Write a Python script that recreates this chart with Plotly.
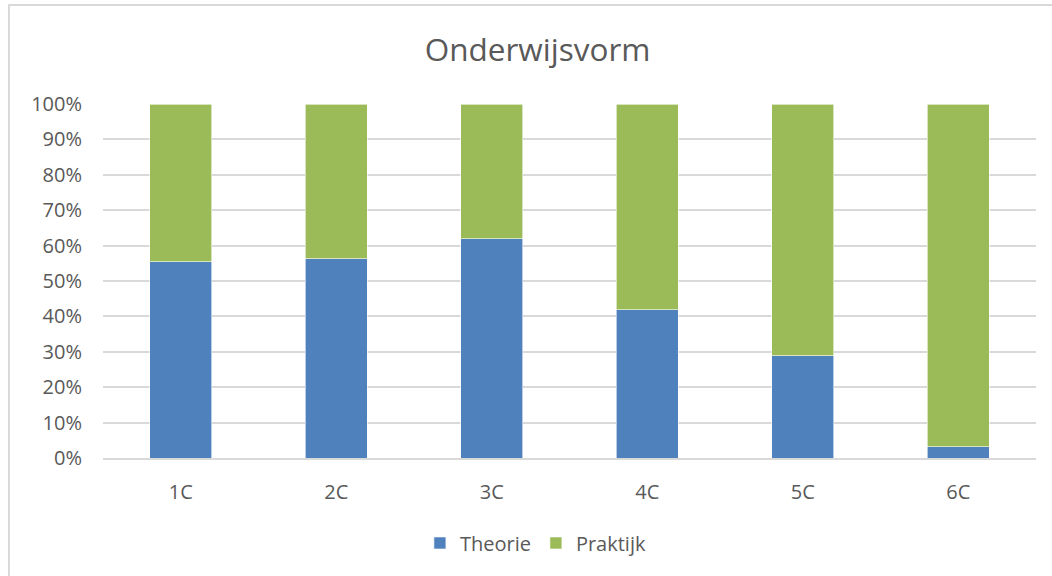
import plotly.graph_objects as go

categories = ["1C", "2C", "3C", "4C", "5C", "6C"]
theorie = [0.555, 0.563, 0.620, 0.419, 0.289, 0.032]
praktijk = [1 - v for v in theorie]

font_family = "Open Sans, Noto Sans, sans-serif"
text_color = "#595959"

fig = go.Figure()
fig.add_trace(go.Bar(x=categories, y=theorie, name="Theorie",
                     marker=dict(color="#4f81bd", line=dict(color="#ffffff", width=0.6))))
fig.add_trace(go.Bar(x=categories, y=praktijk, name="Praktijk",
                     marker=dict(color="#9bbb59", line=dict(color="#ffffff", width=0.6))))

fig.update_layout(
    barmode="stack",
    bargap=0.6,
    width=1052, height=576,
    margin=dict(l=103, r=16, t=104, b=118),
    paper_bgcolor="white", plot_bgcolor="white",
    font=dict(family=font_family, color=text_color),
    title=dict(text="Onderwijsvorm", x=0.511, xanchor="center", y=1 - 50 / 576,
               yanchor="middle", font=dict(size=31.5, color=text_color)),
    legend=dict(orientation="h", x=0.464, xanchor="center", y=-0.24, yanchor="middle",
                font=dict(size=20, color=text_color), traceorder="normal",
                itemwidth=30),
    showlegend=True,
)
fig.update_yaxes(range=[0, 1], dtick=0.1, tickformat=".0%", showgrid=True,
                 gridcolor="#d9d9d9", gridwidth=1.5, zeroline=False,
                 ticks="", ticklabelstandoff=20, tickfont=dict(size=20, color=text_color),
                 fixedrange=True)
fig.update_xaxes(showline=True, linecolor="#d9d9d9", linewidth=1.5, ticks="",
                 ticklabelstandoff=15, tickfont=dict(size=20, color=text_color))

fig.add_shape(type="rect", xref="paper", yref="paper",
              x0=(9 - 103) / 933, x1=(1070 - 103) / 933,
              y0=(458 - 600) / 354, y1=(458 - 5) / 354,
              line=dict(color="#d9d9d9", width=2), fillcolor="rgba(0,0,0,0)", layer="below")

fig.write_html("out.html", config={"displayModeBar": False},
               post_script="document.body.style.margin='0';")
